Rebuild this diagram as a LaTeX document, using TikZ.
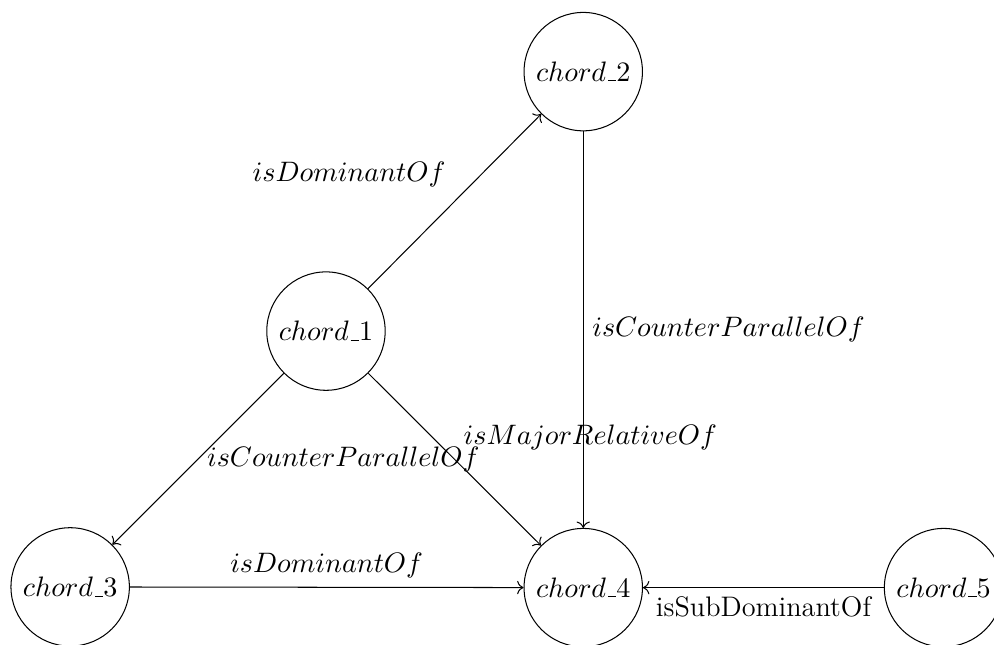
\documentclass[tikz,border=0pt]{standalone}
\usepackage{amsmath,amssymb}
\usetikzlibrary{arrows.meta,positioning}
% short underscore as in the OT1 fonts
\newcommand{\chordname}[1]{$chord\kern.06em\vbox{\hrule width.3em}#1$}

\begin{document}
\begin{tikzpicture}[>=To,font=\fontsize{11}{13.5}\selectfont,
  chordnode/.style={draw,circle,minimum size=1.62cm,inner sep=0pt}]
\useasboundingbox (0,0) rectangle (13.6,8.82);
\node[chordnode] (c1) at (4.46,4.29) {\chordname{1}};
\node[chordnode] (c2) at (7.98,7.84) {\chordname{2}};
\node[chordnode] (c3) at (0.96,0.79) {\chordname{3}};
\node[chordnode] (c4) at (7.98,0.78) {\chordname{4}};
\node[chordnode] (c5) at (12.91,0.78) {\chordname{5}};
% relations between the chords
\draw[->] (c1) -- node[above left,yshift=2pt] {$isDominantOf$} (c2);
\draw[->] (c1) -- node[right] {$isCounterParallelOf$} (c3);
\draw[->] (c1) -- node[above right] {$isMajorRelativeOf$} (c4);
\draw[->] (c2) -- node[right] {$isCounterParallelOf$} (c4);
\draw[->] (c3) -- node[above] {$isDominantOf$} (c4);
\draw[->] (c5) -- node[below] {isSubDominantOf} (c4);
\end{tikzpicture}
\end{document}
